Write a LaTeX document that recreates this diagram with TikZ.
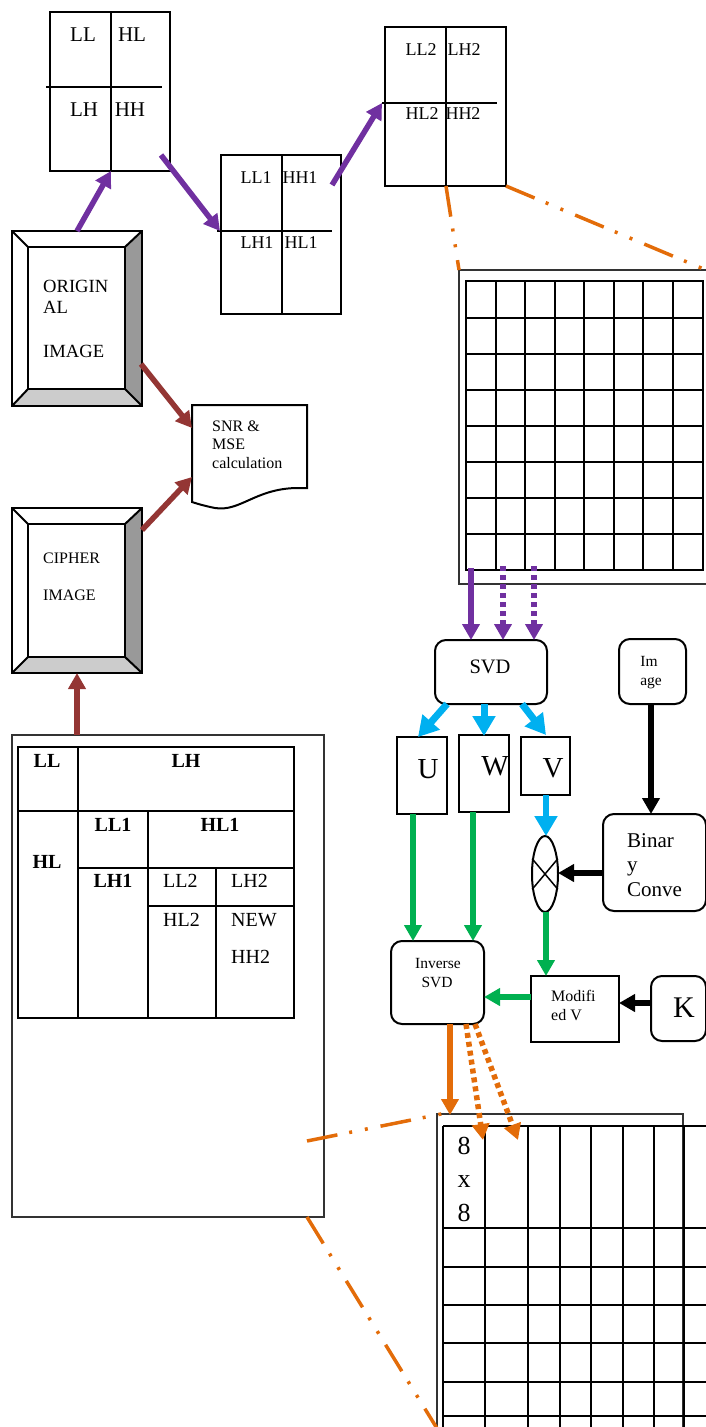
\documentclass[tikz,border=0pt]{standalone}
\usepackage{fontspec}
\setmainfont{Liberation Serif}
\usetikzlibrary{arrows.meta,shapes.geometric}
\definecolor{cpurple}{HTML}{7030A0}
\definecolor{cbrown}{HTML}{943634}
\definecolor{ccyan}{HTML}{00B0F0}
\definecolor{cgreen}{HTML}{00B050}
\definecolor{corange}{HTML}{E36C09}
\definecolor{bevr}{HTML}{999999}
\definecolor{bevb}{HTML}{CCCCCC}
\begin{document}
\begin{tikzpicture}[x=1pt,y=-1pt,
  box/.style={draw, line width=2pt, inner sep=0pt},
  rbox/.style={box, rounded corners=11pt},
  thinbox/.style={draw=black!80, line width=1.5pt, inner sep=0pt},
  gl/.style={line width=2pt},
  txt/.style={inner sep=0pt, anchor=base},
  txtl/.style={inner sep=0pt, anchor=base west},
  arr/.style={line width=5.5pt, -{Triangle[length=16pt,width=17pt]}},
  purp/.style={arr, color=cpurple},
  brwn/.style={arr, color=cbrown},
  cyanarr/.style={line width=7pt, color=ccyan, -{Triangle[length=20pt,width=22pt]}},
  grn/.style={arr, color=cgreen},
  blk/.style={arr, color=black},
  orng/.style={arr, color=corange},
  dotl/.style={dash pattern=on 5pt off 4pt},
  ddot/.style={line width=3.5pt, color=corange, dash pattern=on 31pt off 12pt on 3pt off 13pt on 3pt off 13pt},
]
\useasboundingbox (0,0) rectangle (705,1427);

% ---------- box A ----------
\node[box, minimum width=120pt, minimum height=159pt] (boxA) at (110,91.5) {};
\draw[gl] (111,12) -- (111,171);
\draw[gl] (46,87) -- (162,87);
\begin{scope}[every node/.style={font=\fontsize{21}{24}\selectfont}]
\node[txt] (aLL) at (83,41) {LL};
\node[txt] (aHL) at (132,41) {HL};
\node[txt] (aLH) at (84,116) {LH};
\node[txt] (aHH) at (130,116) {HH};
\end{scope}

% ---------- box B ----------
\node[box, minimum width=120pt, minimum height=159pt] (boxB) at (281,234.5) {};
\draw[gl] (282,155) -- (282,314);
\draw[gl] (217,231) -- (332,231);
\begin{scope}[every node/.style={font=\fontsize{18}{21}\selectfont}]
\node[txt] (bLL) at (256,183) {LL1};
\node[txt] (bHH) at (300,183) {HH1};
\node[txt] (bLH) at (257,248) {LH1};
\node[txt] (bHL) at (301,248) {HL1};
\end{scope}

% ---------- box C ----------
\node[box, minimum width=121pt, minimum height=159pt] (boxC) at (445.5,106.5) {};
\draw[gl] (446,27) -- (446,186);
\draw[gl] (382,103) -- (497,103);
\begin{scope}[every node/.style={font=\fontsize{18}{21}\selectfont}]
\node[txt] (cLL) at (421,55) {LL2};
\node[txt] (cLH) at (464,55) {LH2};
\node[txt] (cHL) at (422,119) {HL2};
\node[txt] (cHH) at (463,119) {HH2};
\end{scope}

% ---------- top grid ----------
\node[thinbox, minimum width=251pt, minimum height=314pt] (gridT) at (584.5,427) {};
\draw[gl] (466,281) rectangle (703,570);
\foreach \x in {496,525,555,584,614,643,673} \draw[gl] (\x,281) -- (\x,570);
\foreach \y in {318,354,390,426,462,498,534} \draw[gl] (466,\y) -- (703,\y);

% ---------- original image (bevel) ----------
\fill[bevr] (142,231) -- (142,406) -- (125,389) -- (125,247) -- cycle;
\fill[bevb] (12,406) -- (142,406) -- (125,389) -- (28,389) -- cycle;
\node[box, minimum width=130pt, minimum height=175pt] (orig) at (77,318.5) {};
\draw[gl] (28,247) rectangle (125,389);
\draw[gl] (12,231) -- (28,247) (142,231) -- (125,247) (12,406) -- (28,389) (142,406) -- (125,389);
\begin{scope}[every node/.style={font=\fontsize{18.6}{21}\selectfont}]
\node[txtl] (o1) at (43,292) {ORIGIN};
\node[txtl] (o2) at (43,313) {AL};
\node[txtl] (o3) at (43,357) {IMAGE};
\end{scope}

% ---------- cipher image (bevel) ----------
\fill[bevr] (142,508) -- (142,673) -- (125,657) -- (125,524) -- cycle;
\fill[bevb] (12,673) -- (142,673) -- (125,657) -- (28,657) -- cycle;
\node[box, minimum width=130pt, minimum height=165pt] (ciph) at (77,590.5) {};
\draw[gl] (28,524) rectangle (125,657);
\draw[gl] (12,508) -- (28,524) (142,508) -- (125,524) (12,673) -- (28,657) (142,673) -- (125,657);
\begin{scope}[every node/.style={font=\fontsize{16}{19}\selectfont}]
\node[txtl] (c1) at (43,563) {CIPHER};
\node[txtl] (c2) at (43,600) {IMAGE};
\end{scope}

% ---------- SNR document ----------
\draw[line width=2pt] (192,405) -- (307,405) -- (307,488) -- (296,488)
  .. controls (255,489) and (240,512) .. (215,508)
  .. controls (205,506) and (198,504) .. (192,502) -- cycle;
\begin{scope}[every node/.style={font=\fontsize{16}{19}\selectfont}]
\node[txtl] (s1) at (212,431) {SNR \&};
\node[txtl] (s2) at (212,449) {MSE};
\node[txtl] (s3) at (212,468) {calculation};
\end{scope}

% ---------- big box with table ----------
\node[thinbox, minimum width=312pt, minimum height=482pt] (big) at (168,976) {};
\draw[gl] (18,747) rectangle (294,1018);
\draw[gl] (18,811) -- (294,811);
\draw[gl] (78,747) -- (78,1018);
\draw[gl] (78,868) -- (294,868);
\draw[gl] (148,811) -- (148,1018);
\draw[gl] (148,906) -- (294,906);
\draw[gl] (216,868) -- (216,1018);
\begin{scope}[every node/.style={font=\fontsize{20}{23}\selectfont\bfseries}]
\node[txt] (tLL) at (47,767) {LL};
\node[txt] (tLH) at (186,767) {LH};
\node[txt] (tHL) at (47,868) {HL};
\node[txt] (tLL1) at (113,831) {LL1};
\node[txt] (tHL1) at (220,831) {HL1};
\node[txt] (tLH1) at (113,887) {LH1};
\end{scope}
\begin{scope}[every node/.style={font=\fontsize{20}{23}\selectfont}]
\node[txtl] (tLL2) at (163,887) {LL2};
\node[txtl] (tLH2) at (231,887) {LH2};
\node[txtl] (tHL2) at (163,926) {HL2};
\node[txtl] (tNEW) at (231,926) {NEW};
\node[txtl] (tHH2) at (231,963) {HH2};
\end{scope}

% ---------- SVD side ----------
\node[rbox, minimum width=112pt, minimum height=64pt] (svd) at (491,672) {};
\node[txt, font=\fontsize{20.5}{23}\selectfont] (svdt) at (490,673) {SVD};
\node[rbox, minimum width=67pt, minimum height=65pt] (img) at (652.5,671.5) {};
\node[txt, font=\fontsize{15.5}{18}\selectfont] (img1) at (649,666) {Im};
\node[txt, font=\fontsize{15.5}{18}\selectfont] (img2) at (651,685) {age};

\node[box, minimum width=50pt, minimum height=77pt] (ubox) at (422,775.5) {};
\node[txt, font=\fontsize{29}{32}\selectfont] (ut) at (428,778) {U};
\node[box, minimum width=50pt, minimum height=77pt] (wbox) at (484,773.5) {};
\node[txt, font=\fontsize{29}{32}\selectfont] (wt) at (495,775) {W};
\node[box, minimum width=49pt, minimum height=58pt] (vbox) at (545.5,766) {};
\node[txt, font=\fontsize{29}{32}\selectfont] (vt) at (553,777) {V};

\node[ellipse, draw, line width=2pt, minimum width=26pt, minimum height=76pt, inner sep=0pt] (xor) at (545,874) {};
\draw[line width=1.5pt] (xor.130) -- (xor.310) (xor.50) -- (xor.230);

\node[rbox, minimum width=103pt, minimum height=97pt] (bin) at (654.5,862.5) {};
\begin{scope}[every node/.style={font=\fontsize{21}{24}\selectfont}]
\node[txtl] (b1) at (627,847) {Binar};
\node[txtl] (b2) at (627,871) {y};
\node[txtl] (b3) at (627,896) {Conve};
\end{scope}

\node[rbox, minimum width=93pt, minimum height=83pt] (isvd) at (437.5,982.5) {};
\node[txt, font=\fontsize{15.5}{18}\selectfont] (is1) at (438,968) {Inverse};
\node[txt, font=\fontsize{15.5}{18}\selectfont] (is2) at (437,987) {SVD};

\node[box, minimum width=88pt, minimum height=66pt] (modv) at (575,1009) {};
\node[txtl, font=\fontsize{16}{19}\selectfont] (m1) at (551,1001) {Modifi};
\node[txtl, font=\fontsize{16}{19}\selectfont] (m2) at (551,1020) {ed V};

\node[rbox, minimum width=55pt, minimum height=65pt] (kbox) at (678.5,1008.5) {};
\node[txt, font=\fontsize{30}{33}\selectfont] (kt) at (684,1017) {K};

% ---------- bottom grid ----------
\node[thinbox, minimum width=246pt, minimum height=330pt] (gridB) at (560,1279) {};
\draw[gl] (443,1126) -- (706,1126);
\foreach \y in {1228,1267,1305,1343,1382,1416} \draw[gl] (443,\y) -- (706,\y);
\foreach \x in {443,485,528,560,591,623,654} \draw[gl] (\x,1126) -- (\x,1440);
\draw[line width=2.6pt] (684,1126) -- (684,1440);
\begin{scope}[every node/.style={font=\fontsize{26}{29}\selectfont}]
\node[txt] (e1) at (464,1154) {8};
\node[txt] (e2) at (464,1187) {x};
\node[txt] (e3) at (464,1221) {8};
\end{scope}

% ---------- connector endpoints ----------
\coordinate (p1s) at (77,231);   \coordinate (p1e) at (111,171);
\coordinate (p2s) at (161,155);  \coordinate (p2e) at (220,231);
\coordinate (p3s) at (332,185);  \coordinate (p3e) at (382,103);
\coordinate (r1s) at (141,364);  \coordinate (r1e) at (192,428);
\coordinate (r2s) at (142,530);  \coordinate (r2e) at (192,477);
\coordinate (r3s) at (77,735);   \coordinate (r3e) at (77,673);
\coordinate (d1s) at (471,568);  \coordinate (d1e) at (471,640);
\coordinate (d2s) at (503,566);  \coordinate (d2e) at (503,640);
\coordinate (d3s) at (534,566);  \coordinate (d3e) at (534,640);
\coordinate (c1s) at (447,704);  \coordinate (c1e) at (418,737);
\coordinate (c2s) at (484,704);  \coordinate (c2e) at (484,736);
\coordinate (c3s) at (522,704);  \coordinate (c3e) at (546,735);
\coordinate (vxs) at (546,795);  \coordinate (vxe) at (546,836);
\coordinate (ibs) at (651,704);  \coordinate (ibe) at (651,814);
\coordinate (bxs) at (603,873);  \coordinate (bxe) at (558,873);
\coordinate (g1s) at (413,814);  \coordinate (g1e) at (413,941);
\coordinate (g2s) at (473,812);  \coordinate (g2e) at (473,941);
\coordinate (g3s) at (546,912);  \coordinate (g3e) at (546,976);
\coordinate (g4s) at (531,997);  \coordinate (g4e) at (484,997);
\coordinate (kms) at (651,1003); \coordinate (kme) at (619,1003);
\coordinate (o1s) at (450,1024); \coordinate (o1e) at (450,1115);
\coordinate (o2s) at (466,1024); \coordinate (o2e) at (483,1140);
\coordinate (o3s) at (475,1024); \coordinate (o3e) at (518,1140);
\coordinate (z1s) at (446,186);  \coordinate (z1e) at (459,270);
\coordinate (z2s) at (506,186);  \coordinate (z2e) at (706,270);
\coordinate (z3s) at (307,1141); \coordinate (z3e) at (446,1113);
\coordinate (z4s) at (307,1217); \coordinate (z4e) at (438,1430);

% ---------- connectors ----------
\draw[purp] (p1s) -- (p1e);
\draw[purp] (p2s) -- (p2e);
\draw[purp] (p3s) -- (p3e);
\draw[brwn] (r1s) -- (r1e);
\draw[brwn] (r2s) -- (r2e);
\draw[brwn] (r3s) -- (r3e);
\draw[purp] (d1s) -- (d1e);
\draw[purp, dotl] (d2s) -- (d2e);
\draw[purp, dotl] (d3s) -- (d3e);
\draw[cyanarr] (c1s) -- (c1e);
\draw[cyanarr] (c2s) -- (c2e);
\draw[cyanarr] (c3s) -- (c3e);
\draw[cyanarr, line width=6pt] (vxs) -- (vxe);
\draw[blk] (ibs) -- (ibe);
\draw[blk] (bxs) -- (bxe);
\draw[grn] (g1s) -- (g1e);
\draw[grn] (g2s) -- (g2e);
\draw[grn] (g3s) -- (g3e);
\draw[grn] (g4s) -- (g4e);
\draw[blk] (kms) -- (kme);
\draw[orng] (o1s) -- (o1e);
\draw[orng, dotl] (o2s) -- (o2e);
\draw[orng, dotl] (o3s) -- (o3e);
\draw[ddot] (z1s) -- (z1e);
\draw[ddot] (z2s) -- (z2e);
\draw[ddot] (z3s) -- (z3e);
\draw[ddot] (z4s) -- (z4e);
\end{tikzpicture}
\end{document}
